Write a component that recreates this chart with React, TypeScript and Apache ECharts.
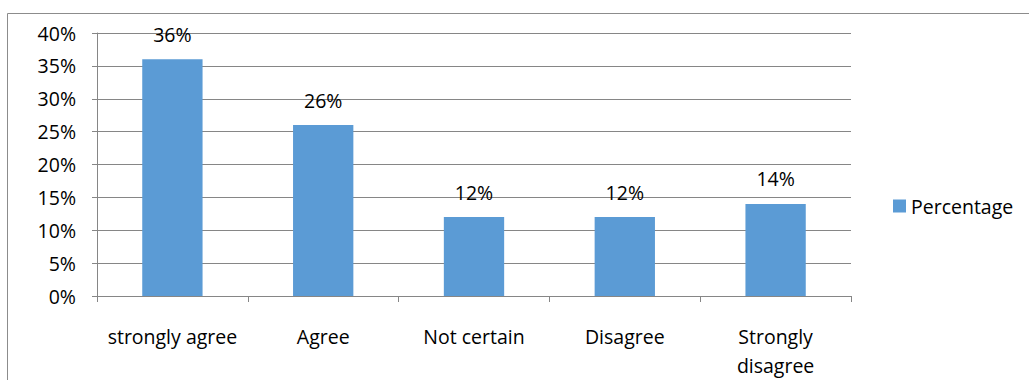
import React, { useEffect, useRef } from "react";
import * as echarts from "echarts";

const categories = ["strongly agree", "Agree", "Not certain", "Disagree", "Strongly disagree"];
const percentages = [36, 26, 12, 12, 14];
const seriesName = "Percentage";
const yTicks = [0, 5, 10, 15, 20, 25, 30, 35, 40];

const FONT = "'Open Sans', 'Liberation Sans', sans-serif";
const FS = 19.5;

export default function App() {
  const ref = useRef<HTMLDivElement>(null);
  useEffect(() => {
    if (!ref.current) return;
    const chart = echarts.init(ref.current, undefined, { renderer: "svg" });
    chart.setOption({
      animation: false,
      backgroundColor: "#ffffff",
      graphic: [
        {
          type: "polyline",
          shape: { points: [[7.5, 380], [7.5, 13.5], [1029, 13.5]] },
          style: { stroke: "#8c8c8c", lineWidth: 1, fill: "none" },
        },
      ],
      legend: {
        orient: "vertical",
        left: 888,
        top: 191,
        itemWidth: 13,
        itemHeight: 13,
        itemGap: 6,
        icon: "rect",
        textStyle: { fontFamily: FONT, fontSize: FS, color: "#000" },
        data: [seriesName],
      },
      grid: { left: 97, right: 178, top: 33, bottom: 82 },
      xAxis: {
        type: "category",
        data: categories,
        axisLine: { show: true, lineStyle: { color: "#868686" } },
        axisTick: { show: true, length: 6, lineStyle: { color: "#868686" } },
        axisLabel: {
          fontFamily: FONT,
          fontSize: FS,
          color: "#000",
          margin: 26,
          lineHeight: 29,
          interval: 0,
          formatter: (v: string) => (v === "Strongly disagree" ? "Strongly\ndisagree" : v),
        },
      },
      yAxis: {
        type: "value",
        min: 0,
        max: 40,
        interval: 5,
        axisLine: { show: true, lineStyle: { color: "#868686" } },
        axisTick: { show: true, length: 5, lineStyle: { color: "#868686" } },
        splitLine: { show: true, lineStyle: { color: "#868686", width: 1 } },
        axisLabel: {
          fontFamily: FONT,
          fontSize: FS,
          color: "#000",
          margin: 21,
          formatter: (v: number) => (yTicks.includes(v) ? v + "%" : ""),
        },
      },
      series: [
        {
          name: seriesName,
          type: "bar",
          data: percentages,
          barWidth: "40%",
          itemStyle: { color: "#5B9BD5" },
          label: {
            show: true,
            position: "top",
            distance: 15,
            fontFamily: FONT,
            fontSize: FS,
            color: "#000",
            formatter: (p: any) => p.value + "%",
          },
        },
      ],
    });
    return () => chart.dispose();
  }, []);
  return (
    <div
      ref={ref}
      style={{ position: "absolute", left: 0, top: 0, width: 1029, height: 380 }}
    />
  );
}
